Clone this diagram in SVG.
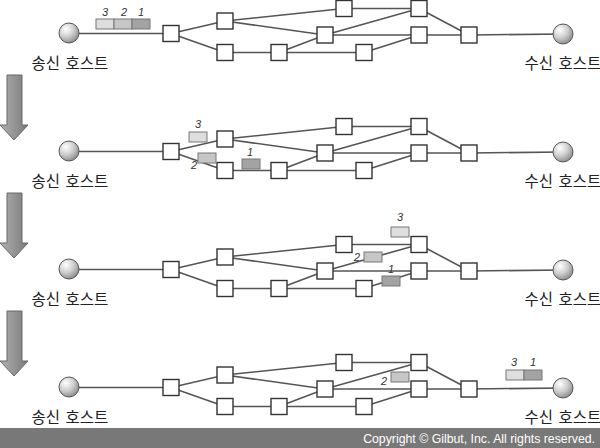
<svg xmlns="http://www.w3.org/2000/svg" width="600" height="448" viewBox="0 0 600 448">
<defs>
<radialGradient id="sph" cx="0.35" cy="0.3" r="0.75">
<stop offset="0" stop-color="#ffffff"/>
<stop offset="0.5" stop-color="#d0d0d0"/>
<stop offset="1" stop-color="#8a8a8a"/>
</radialGradient>
<linearGradient id="arr" x1="0" y1="0" x2="1" y2="0">
<stop offset="0" stop-color="#b0b0b0"/>
<stop offset="1" stop-color="#7a7a7a"/>
</linearGradient>
<style>
.e{stroke:#555;stroke-width:1.6;fill:none}
.n{fill:#fff;stroke:#333;stroke-width:1.4}
.h{fill:url(#sph);stroke:#555;stroke-width:1}
.lbl{font-family:"Noto Sans CJK KR","Noto Sans",sans-serif;font-size:15.5px;fill:#222;text-anchor:middle;word-spacing:2px}
.pk{stroke:#777;stroke-width:1}
.p1{fill:#a3a3a3}
.p2{fill:#c6c6c6}
.p3{fill:#dedede}
.num{font-family:"Liberation Sans",sans-serif;font-style:italic;font-size:11px;fill:#333;text-anchor:middle}
.ar{fill:url(#arr);stroke:#666;stroke-width:1}
</style>
</defs>
<rect width="600" height="448" fill="#fff"/>

<!-- down arrows -->
<g id="arrows">
<polygon class="ar" points="7,75 22,75 22,125 28,125 14,140 0,125 7,125"/>
<polygon class="ar" points="7,193 22,193 22,243 28,243 14,258 0,243 7,243"/>
<polygon class="ar" points="7,311 22,311 22,361 28,361 14,376 0,361 7,361"/>
</g>

<!-- Panel 1 -->
<g id="panel1">
<g id="p1-connectors">
<line class="e" x1="69" y1="33.5" x2="171" y2="33.5"/>
<line class="e" x1="171" y1="33.5" x2="225" y2="21"/>
<line class="e" x1="171" y1="33.5" x2="225" y2="52.5"/>
<line class="e" x1="225" y1="21" x2="344" y2="8.5"/>
<line class="e" x1="225" y1="21" x2="325" y2="35"/>
<line class="e" x1="225" y1="52.5" x2="279" y2="52.5"/>
<line class="e" x1="279" y1="52.5" x2="325" y2="35"/>
<line class="e" x1="279" y1="52.5" x2="364" y2="52.5"/>
<line class="e" x1="325" y1="35" x2="419" y2="8.5"/>
<line class="e" x1="325" y1="35" x2="419" y2="35"/>
<line class="e" x1="344" y1="8.5" x2="419" y2="8.5"/>
<line class="e" x1="364" y1="52.5" x2="419" y2="35"/>
<line class="e" x1="419" y1="8.5" x2="469" y2="35"/>
<line class="e" x1="419" y1="35" x2="469" y2="35"/>
<line class="e" x1="469" y1="35" x2="563" y2="34"/>
</g>
<g id="p1-sender"><circle class="h" cx="69" cy="33" r="10"/><text class="lbl" x="70" y="69">송신 호스트</text></g>
<g id="p1-receiver"><circle class="h" cx="563" cy="34" r="10"/><text class="lbl" x="563" y="69">수신 호스트</text></g>
<g id="p1-A"><rect class="n" x="163" y="25.5" width="16" height="16"/></g>
<g id="p1-B"><rect class="n" x="217" y="13" width="16" height="16"/></g>
<g id="p1-C"><rect class="n" x="217" y="44.5" width="16" height="16"/></g>
<g id="p1-D"><rect class="n" x="271" y="44.5" width="16" height="16"/></g>
<g id="p1-E"><rect class="n" x="317" y="27" width="16" height="16"/></g>
<g id="p1-F"><rect class="n" x="336" y="0.5" width="16" height="16"/></g>
<g id="p1-G"><rect class="n" x="356" y="44.5" width="16" height="16"/></g>
<g id="p1-H"><rect class="n" x="411" y="0.5" width="16" height="16"/></g>
<g id="p1-I"><rect class="n" x="411" y="27" width="16" height="16"/></g>
<g id="p1-J"><rect class="n" x="461" y="27" width="16" height="16"/></g>
<g id="p1-packets">
<rect class="pk p3" x="96" y="19" width="18" height="10"/>
<rect class="pk p2" x="114" y="19" width="18" height="10"/>
<rect class="pk p1" x="132" y="19" width="18" height="10"/>
<text class="num" x="105" y="16">3</text>
<text class="num" x="124" y="16">2</text>
<text class="num" x="141" y="16">1</text>
</g>
</g>

<!-- Panel 2 -->
<g id="panel2" transform="translate(0,118)">
<g id="p2-connectors">
<line class="e" x1="69" y1="33.5" x2="171" y2="33.5"/>
<line class="e" x1="171" y1="33.5" x2="225" y2="21"/>
<line class="e" x1="171" y1="33.5" x2="225" y2="52.5"/>
<line class="e" x1="225" y1="21" x2="344" y2="8.5"/>
<line class="e" x1="225" y1="21" x2="325" y2="35"/>
<line class="e" x1="225" y1="52.5" x2="279" y2="52.5"/>
<line class="e" x1="279" y1="52.5" x2="325" y2="35"/>
<line class="e" x1="279" y1="52.5" x2="364" y2="52.5"/>
<line class="e" x1="325" y1="35" x2="419" y2="8.5"/>
<line class="e" x1="325" y1="35" x2="419" y2="35"/>
<line class="e" x1="344" y1="8.5" x2="419" y2="8.5"/>
<line class="e" x1="364" y1="52.5" x2="419" y2="35"/>
<line class="e" x1="419" y1="8.5" x2="469" y2="35"/>
<line class="e" x1="419" y1="35" x2="469" y2="35"/>
<line class="e" x1="469" y1="35" x2="563" y2="34"/>
</g>
<g id="p2-sender"><circle class="h" cx="69" cy="33" r="10"/><text class="lbl" x="70" y="69">송신 호스트</text></g>
<g id="p2-receiver"><circle class="h" cx="563" cy="34" r="10"/><text class="lbl" x="563" y="69">수신 호스트</text></g>
<g id="p2-A"><rect class="n" x="163" y="25.5" width="16" height="16"/></g>
<g id="p2-B"><rect class="n" x="217" y="13" width="16" height="16"/></g>
<g id="p2-C"><rect class="n" x="217" y="44.5" width="16" height="16"/></g>
<g id="p2-D"><rect class="n" x="271" y="44.5" width="16" height="16"/></g>
<g id="p2-E"><rect class="n" x="317" y="27" width="16" height="16"/></g>
<g id="p2-F"><rect class="n" x="336" y="0.5" width="16" height="16"/></g>
<g id="p2-G"><rect class="n" x="356" y="44.5" width="16" height="16"/></g>
<g id="p2-H"><rect class="n" x="411" y="0.5" width="16" height="16"/></g>
<g id="p2-I"><rect class="n" x="411" y="27" width="16" height="16"/></g>
<g id="p2-J"><rect class="n" x="461" y="27" width="16" height="16"/></g>
<g id="p2-packets">
<rect class="pk p3" x="189" y="14" width="18" height="10"/>
<text class="num" x="198" y="10">3</text>
<rect class="pk p2" x="198" y="35" width="18" height="10"/>
<text class="num" x="194" y="51">2</text>
<rect class="pk p1" x="242" y="41" width="18" height="10"/>
<text class="num" x="250" y="38">1</text>
</g>
</g>

<!-- Panel 3 -->
<g id="panel3" transform="translate(0,236)">
<g id="p3-connectors">
<line class="e" x1="69" y1="33.5" x2="171" y2="33.5"/>
<line class="e" x1="171" y1="33.5" x2="225" y2="21"/>
<line class="e" x1="171" y1="33.5" x2="225" y2="52.5"/>
<line class="e" x1="225" y1="21" x2="344" y2="8.5"/>
<line class="e" x1="225" y1="21" x2="325" y2="35"/>
<line class="e" x1="225" y1="52.5" x2="279" y2="52.5"/>
<line class="e" x1="279" y1="52.5" x2="325" y2="35"/>
<line class="e" x1="279" y1="52.5" x2="364" y2="52.5"/>
<line class="e" x1="325" y1="35" x2="419" y2="8.5"/>
<line class="e" x1="325" y1="35" x2="419" y2="35"/>
<line class="e" x1="344" y1="8.5" x2="419" y2="8.5"/>
<line class="e" x1="364" y1="52.5" x2="419" y2="35"/>
<line class="e" x1="419" y1="8.5" x2="469" y2="35"/>
<line class="e" x1="419" y1="35" x2="469" y2="35"/>
<line class="e" x1="469" y1="35" x2="563" y2="34"/>
</g>
<g id="p3-sender"><circle class="h" cx="69" cy="33" r="10"/><text class="lbl" x="70" y="69">송신 호스트</text></g>
<g id="p3-receiver"><circle class="h" cx="563" cy="34" r="10"/><text class="lbl" x="563" y="69">수신 호스트</text></g>
<g id="p3-A"><rect class="n" x="163" y="25.5" width="16" height="16"/></g>
<g id="p3-B"><rect class="n" x="217" y="13" width="16" height="16"/></g>
<g id="p3-C"><rect class="n" x="217" y="44.5" width="16" height="16"/></g>
<g id="p3-D"><rect class="n" x="271" y="44.5" width="16" height="16"/></g>
<g id="p3-E"><rect class="n" x="317" y="27" width="16" height="16"/></g>
<g id="p3-F"><rect class="n" x="336" y="0.5" width="16" height="16"/></g>
<g id="p3-G"><rect class="n" x="356" y="44.5" width="16" height="16"/></g>
<g id="p3-H"><rect class="n" x="411" y="0.5" width="16" height="16"/></g>
<g id="p3-I"><rect class="n" x="411" y="27" width="16" height="16"/></g>
<g id="p3-J"><rect class="n" x="461" y="27" width="16" height="16"/></g>
<g id="p3-packets">
<rect class="pk p3" x="391" y="-9" width="18" height="10"/>
<text class="num" x="400" y="-15">3</text>
<rect class="pk p2" x="364" y="16" width="18" height="10"/>
<text class="num" x="357" y="25">2</text>
<rect class="pk p1" x="382" y="40" width="18" height="10"/>
<text class="num" x="391" y="37">1</text>
</g>
</g>

<!-- Panel 4 -->
<g id="panel4" transform="translate(0,354)">
<g id="p4-connectors">
<line class="e" x1="69" y1="33.5" x2="171" y2="33.5"/>
<line class="e" x1="171" y1="33.5" x2="225" y2="21"/>
<line class="e" x1="171" y1="33.5" x2="225" y2="52.5"/>
<line class="e" x1="225" y1="21" x2="344" y2="8.5"/>
<line class="e" x1="225" y1="21" x2="325" y2="35"/>
<line class="e" x1="225" y1="52.5" x2="279" y2="52.5"/>
<line class="e" x1="279" y1="52.5" x2="325" y2="35"/>
<line class="e" x1="279" y1="52.5" x2="364" y2="52.5"/>
<line class="e" x1="325" y1="35" x2="419" y2="8.5"/>
<line class="e" x1="325" y1="35" x2="419" y2="35"/>
<line class="e" x1="344" y1="8.5" x2="419" y2="8.5"/>
<line class="e" x1="364" y1="52.5" x2="419" y2="35"/>
<line class="e" x1="419" y1="8.5" x2="469" y2="35"/>
<line class="e" x1="419" y1="35" x2="469" y2="35"/>
<line class="e" x1="469" y1="35" x2="563" y2="34"/>
</g>
<g id="p4-sender"><circle class="h" cx="69" cy="33" r="10"/><text class="lbl" x="70" y="69">송신 호스트</text></g>
<g id="p4-receiver"><circle class="h" cx="563" cy="34" r="10"/><text class="lbl" x="563" y="69">수신 호스트</text></g>
<g id="p4-A"><rect class="n" x="163" y="25.5" width="16" height="16"/></g>
<g id="p4-B"><rect class="n" x="217" y="13" width="16" height="16"/></g>
<g id="p4-C"><rect class="n" x="217" y="44.5" width="16" height="16"/></g>
<g id="p4-D"><rect class="n" x="271" y="44.5" width="16" height="16"/></g>
<g id="p4-E"><rect class="n" x="317" y="27" width="16" height="16"/></g>
<g id="p4-F"><rect class="n" x="336" y="0.5" width="16" height="16"/></g>
<g id="p4-G"><rect class="n" x="356" y="44.5" width="16" height="16"/></g>
<g id="p4-H"><rect class="n" x="411" y="0.5" width="16" height="16"/></g>
<g id="p4-I"><rect class="n" x="411" y="27" width="16" height="16"/></g>
<g id="p4-J"><rect class="n" x="461" y="27" width="16" height="16"/></g>
<g id="p4-packets">
<rect class="pk p2" x="391" y="18" width="18" height="10"/>
<text class="num" x="384" y="31">2</text>
<rect class="pk p3" x="506" y="16" width="18" height="10"/>
<rect class="pk p1" x="524" y="16" width="18" height="10"/>
<text class="num" x="514" y="12">3</text>
<text class="num" x="533" y="12">1</text>
</g>
</g>

<!-- footer -->
<g id="footer">
<rect x="0" y="428" width="600" height="20" fill="#787878"/>
<text x="595" y="443" font-family="Liberation Sans, Arial, sans-serif" font-size="12.3" fill="#fff" text-anchor="end">Copyright © Gilbut, Inc. All rights reserved.</text>
</g>
</svg>
